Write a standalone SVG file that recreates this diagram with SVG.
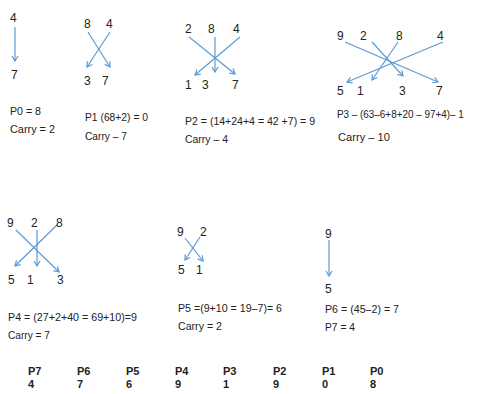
<svg xmlns="http://www.w3.org/2000/svg" width="477" height="394" viewBox="0 0 477 394">
<defs>
<marker id="ah" markerWidth="8" markerHeight="8" refX="6" refY="4" orient="auto" markerUnits="userSpaceOnUse">
<path d="M1,1 L6,4 L1,7" fill="none" stroke="#5b9bd5" stroke-width="1.2"/>
</marker>
</defs>
<style>
text{font-family:"Liberation Sans",Arial,sans-serif;fill:#222;font-size:12px}
.eq{font-size:11.5px}
.b{font-weight:bold;font-size:11px}
.c line{stroke:#5b9bd5;stroke-width:1.2;marker-end:url(#ah)}
</style>
<g class="c" id="connectors">
<line x1="15" y1="27" x2="15" y2="61"/>
<line x1="88" y1="32" x2="110" y2="67"/>
<line x1="110" y1="32" x2="87" y2="67"/>
<line x1="189" y1="37" x2="235" y2="74"/>
<line x1="215" y1="37" x2="215" y2="72"/>
<line x1="240" y1="37" x2="195" y2="75"/>
<line x1="345" y1="42" x2="438" y2="82"/>
<line x1="372" y1="42" x2="403" y2="76"/>
<line x1="398" y1="42" x2="372" y2="80"/>
<line x1="443" y1="42" x2="347" y2="82"/>
<line x1="16" y1="230" x2="59" y2="272"/>
<line x1="37" y1="230" x2="37" y2="266"/>
<line x1="57" y1="225" x2="15" y2="266"/>
<line x1="185" y1="238" x2="203" y2="261"/>
<line x1="200" y1="237" x2="185" y2="260"/>
<line x1="329" y1="240" x2="329" y2="276"/>
</g>
<g id="b0">
<text x="10" y="22">4</text>
<text x="11" y="79">7</text>
<text class="eq" x="10" y="115" textLength="31" lengthAdjust="spacingAndGlyphs">P0 = 8</text>
<text class="eq" x="10" y="133" textLength="45" lengthAdjust="spacingAndGlyphs">Carry = 2</text>
</g>
<g id="b1">
<text x="84" y="28">8</text>
<text x="106" y="28">4</text>
<text x="84" y="85">3</text>
<text x="102" y="85">7</text>
<text class="eq" x="85" y="121" textLength="63" lengthAdjust="spacingAndGlyphs">P1 (68+2) = 0</text>
<text class="eq" x="85" y="140" textLength="42" lengthAdjust="spacingAndGlyphs">Carry – 7</text>
</g>
<g id="b2">
<text x="185" y="33">2</text>
<text x="208" y="33">8</text>
<text x="233" y="33">4</text>
<text x="185" y="89">1</text>
<text x="202" y="89">3</text>
<text x="232" y="89">7</text>
<text class="eq" x="185" y="125" textLength="130" lengthAdjust="spacingAndGlyphs">P2 = (14+24+4 = 42 +7) = 9</text>
<text class="eq" x="185" y="143" textLength="43" lengthAdjust="spacingAndGlyphs">Carry – 4</text>
</g>
<g id="b3">
<text x="337" y="40">9</text>
<text x="360" y="40">2</text>
<text x="396" y="40">8</text>
<text x="437" y="40">4</text>
<text x="337" y="95">5</text>
<text x="357" y="95">1</text>
<text x="399" y="95">3</text>
<text x="436" y="95">7</text>
<text class="eq" transform="translate(337,118) scale(0.86,1)" x="0" y="0">P3 – (63–6+8+20 – 97+4)– 1</text>
<text class="eq" x="338" y="141" textLength="52" lengthAdjust="spacingAndGlyphs">Carry – 10</text>
</g>
<g id="b4">
<text x="7" y="227">9</text>
<text x="31" y="227">2</text>
<text x="56" y="227">8</text>
<text x="8" y="284">5</text>
<text x="27" y="284">1</text>
<text x="57" y="284">3</text>
<text class="eq" x="8" y="321" textLength="129" lengthAdjust="spacingAndGlyphs">P4 = (27+2+40 = 69+10)=9</text>
<text class="eq" x="8" y="339" textLength="42" lengthAdjust="spacingAndGlyphs">Carry = 7</text>
</g>
<g id="b5">
<text x="177" y="236">9</text>
<text x="200" y="236">2</text>
<text x="178" y="274">5</text>
<text x="196" y="274">1</text>
<text class="eq" x="178" y="312" textLength="104" lengthAdjust="spacingAndGlyphs">P5 =(9+10 = 19–7)= 6</text>
<text class="eq" x="178" y="330" textLength="44" lengthAdjust="spacingAndGlyphs">Carry = 2</text>
</g>
<g id="b6">
<text x="325" y="238">9</text>
<text x="325" y="293">5</text>
<text class="eq" x="325" y="313" textLength="74" lengthAdjust="spacingAndGlyphs">P6 = (45–2) = 7</text>
<text class="eq" x="325" y="331" textLength="30" lengthAdjust="spacingAndGlyphs">P7 = 4</text>
</g>
<g id="result">
<text class="b" x="28" y="375">P7</text><text class="b" x="28" y="388">4</text>
<text class="b" x="77" y="375">P6</text><text class="b" x="77" y="388">7</text>
<text class="b" x="126" y="375">P5</text><text class="b" x="126" y="388">6</text>
<text class="b" x="175" y="375">P4</text><text class="b" x="175" y="388">9</text>
<text class="b" x="223" y="375">P3</text><text class="b" x="223" y="388">1</text>
<text class="b" x="273" y="375">P2</text><text class="b" x="273" y="388">9</text>
<text class="b" x="322" y="375">P1</text><text class="b" x="322" y="388">0</text>
<text class="b" x="370" y="375">P0</text><text class="b" x="370" y="388">8</text>
</g>
</svg>
